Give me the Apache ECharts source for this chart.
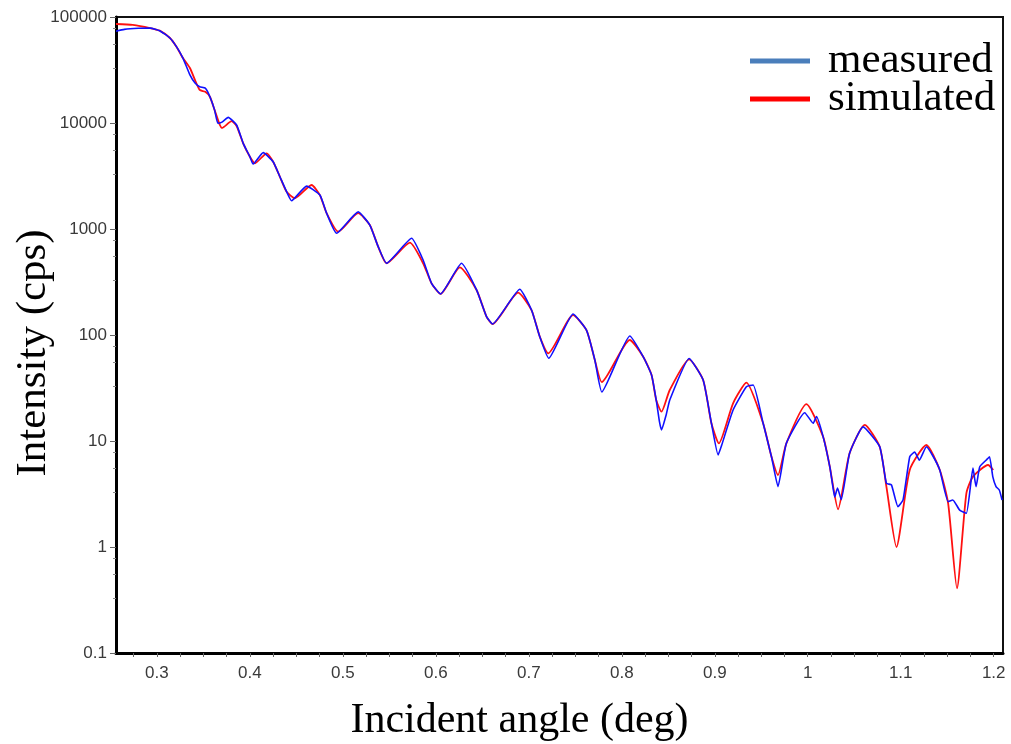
<!DOCTYPE html>
<html>
<head>
<meta charset="utf-8">
<script src="https://cdn.jsdelivr.net/npm/echarts@6/dist/echarts.min.js"></script>
<style>html,body{margin:0;padding:0;background:#fff;}#c{width:1011px;height:744px;}</style>
</head>
<body>
<div id="c"></div>
<script>
// ---- data ----
const measuredAngle = [0.256,0.265,0.28,0.293,0.303,0.314,0.321,0.328,0.3355,0.341,0.346,0.352,0.357,0.362,0.3656,0.370,0.3767,0.3857,0.3928,0.400,0.4035,0.4143,0.425,0.4323,0.4395,0.4448,0.461,0.4753,0.4825,0.4932,0.5165,0.529,0.538,0.547,0.5739,0.5863,0.5954,0.605,0.6276,0.6438,0.6545,0.661,0.6903,0.7029,0.7118,0.7215,0.7476,0.762,0.771,0.7785,0.8086,0.823,0.832,0.837,0.8405,0.8427,0.8477,0.8516,0.8724,0.8875,0.8964,0.9036,0.9075,0.9197,0.934,0.9413,0.952,0.961,0.968,0.977,0.9968,1.0058,1.0094,1.0165,1.0237,1.027,1.029,1.032,1.036,1.045,1.0595,1.0774,1.0846,1.09,1.097,1.1025,1.1097,1.115,1.12,1.1276,1.134,1.142,1.151,1.156,1.1634,1.1706,1.1777,1.181,1.185,1.192,1.1955,1.199,1.2025,1.206,1.209];
const measuredIntensity = [73500,76500,78200,78500,74300,63400,52500,41000,28400,23800,22000,21300,17700,13300,9930,10200,11300,9570,6430,4810,4100,5250,4310,3110,2250,1850,2540,2090,1410,911,1450,1090,681,475,817,510,307,244,475,266,149,127,270,172,96.4,60.3,158,111,58.1,29.0,97.9,62.4,41.9,24.4,15.2,12.7,17.6,24.4,60,37.6,14.7,7.38,9.17,19.6,32.5,33.8,14.7,7.11,3.71,9.51,18.5,14.7,17.0,11.0,5.72,3.71,2.96,3.6,2.8,7.65,13.6,8.84,3.99,3.85,2.40,2.78,7.11,7.87,6.6,8.84,7.38,5.33,2.68,2.78,2.23,2.08,5.56,3.71,5.72,6.62,7.11,4.61,3.71,3.45,2.78];

const simulatedAngle = [0.256,0.274,0.2925,0.303,0.314,0.321,0.328,0.3355,0.341,0.346,0.352,0.357,0.362,0.3677,0.370,0.3803,0.3857,0.3928,0.400,0.4054,0.418,0.425,0.4323,0.4395,0.4484,0.4663,0.4753,0.4825,0.495,0.5165,0.529,0.538,0.547,0.572,0.5863,0.5954,0.605,0.6258,0.6438,0.6545,0.661,0.6885,0.7029,0.7118,0.7208,0.7476,0.762,0.771,0.7785,0.8086,0.823,0.832,0.837,0.8427,0.8516,0.8724,0.8875,0.8964,0.9044,0.9197,0.934,0.952,0.961,0.968,0.977,0.9986,1.0165,1.0237,1.0326,1.045,1.0613,1.0774,1.0846,1.0954,1.1097,1.1276,1.142,1.151,1.1605,1.1706,1.1777,1.1939,1.1995];
const simulatedIntensity = [85900,84100,78700,74300,63400,52500,41000,33000,25400,20500,19700,17700,13300,9570,8970,10400,9370,6430,4810,4170,5180,4310,3110,2250,1950,2600,2090,1410,943,1410,1090,681,475,743,475,307,244,435,266,149,127,251,172,96.4,67.2,154,111,58.1,36.0,89.7,62.4,41.9,24.4,18.9,30.3,59.0,37.6,14.7,9.51,22.7,35.5,14.7,7.11,4.78,9.51,22.3,11.0,5.72,2.27,7.65,14.2,8.84,3.71,1.0,5.33,9.17,5.33,2.58,0.408,3.21,4.61,5.94,5.33];

const seriesNames = ['measured', 'simulated'];
const xLabelValues = [0.3,0.4,0.5,0.6,0.7,0.8,0.9,1.0,1.1,1.2];
const yTickLabels = ['0.1','1','10','100','1000','10000','100000'];

// ---- chart ----
const xTickValues = [];
for (let k = 11; k <= 48; k++) xTickValues.push(Math.round(k * 25) / 1000);

const sansFont = 'Liberation Sans';
const serifFont = 'Liberation Serif';

const chart = echarts.init(document.getElementById('c'), null, {renderer: 'canvas'});
chart.setOption({
  animation: false,
  backgroundColor: '#fff',
  grid: {left: 116, right: 8, top: 17, bottom: 91, show: true, borderColor: '#111', borderWidth: 2, outerBoundsMode: 'none'},
  legend: {
    orient: 'vertical', left: 750, top: 39.5, padding: 0, itemWidth: 60, itemHeight: 5, itemGap: -5,
    icon: 'rect', selectedMode: false,
    textStyle: {fontFamily: serifFont, fontSize: 43, color: '#000', padding: [0, 0, 0, 13]},
    data: [
      {name: seriesNames[0], itemStyle: {color: '#4a7ebb'}},
      {name: seriesNames[1], itemStyle: {color: '#ff0000'}}
    ]
  },
  xAxis: {
    type: 'value', min: 0.256, max: 1.21,
    axisLine: {show: true, onZero: false, lineStyle: {color: '#000', width: 3}},
    axisTick: {show: true, customValues: xTickValues, length: 4, lineStyle: {color: '#666', width: 1}},
    axisLabel: {customValues: xLabelValues, fontFamily: sansFont, fontSize: 17, color: '#3a3a3a', margin: 12},
    splitLine: {show: false},
    name: 'Incident angle (deg)', nameLocation: 'middle', nameGap: 47,
    nameTextStyle: {fontFamily: serifFont, fontSize: 42, color: '#000', padding: [0, 80, 0, 0]}
  },
  yAxis: {
    type: 'log', logBase: 10, min: 0.1, max: 100000, interval: 1,
    axisLine: {show: true, lineStyle: {color: '#000', width: 3}},
    axisTick: {show: true, length: 6, lineStyle: {color: '#666', width: 1}},
    minorTick: {show: true, splitNumber: 4, length: 3, lineStyle: {color: '#888', width: 1}},
    axisLabel: {
      fontFamily: sansFont, fontSize: 17, color: '#3a3a3a', margin: 9,
      formatter: function (v) { return yTickLabels[Math.round(Math.log10(v)) + 1]; }
    },
    splitLine: {show: false},
    minorSplitLine: {show: false},
    name: 'Intensity (cps)', nameLocation: 'middle', nameGap: 61, nameMoveOverlap: false,
    nameTextStyle: {fontFamily: serifFont, fontSize: 43, color: '#000', padding: [0, 36, 0, 0]}
  },
  series: [
    {
      name: seriesNames[1], type: 'line', symbol: 'none', smooth: 0.2, z: 2,
      lineStyle: {color: '#ff1010', width: 1.8}, itemStyle: {color: '#ff0000'},
      data: simulatedAngle.map((a, i) => [a, simulatedIntensity[i]])
    },
    {
      name: seriesNames[0], type: 'line', symbol: 'none', smooth: 0.15, z: 3,
      lineStyle: {color: '#1010ff', width: 1.6}, itemStyle: {color: '#4a7ebb'},
      data: measuredAngle.map((a, i) => [a, measuredIntensity[i]])
    }
  ]
});
</script>
</body>
</html>
